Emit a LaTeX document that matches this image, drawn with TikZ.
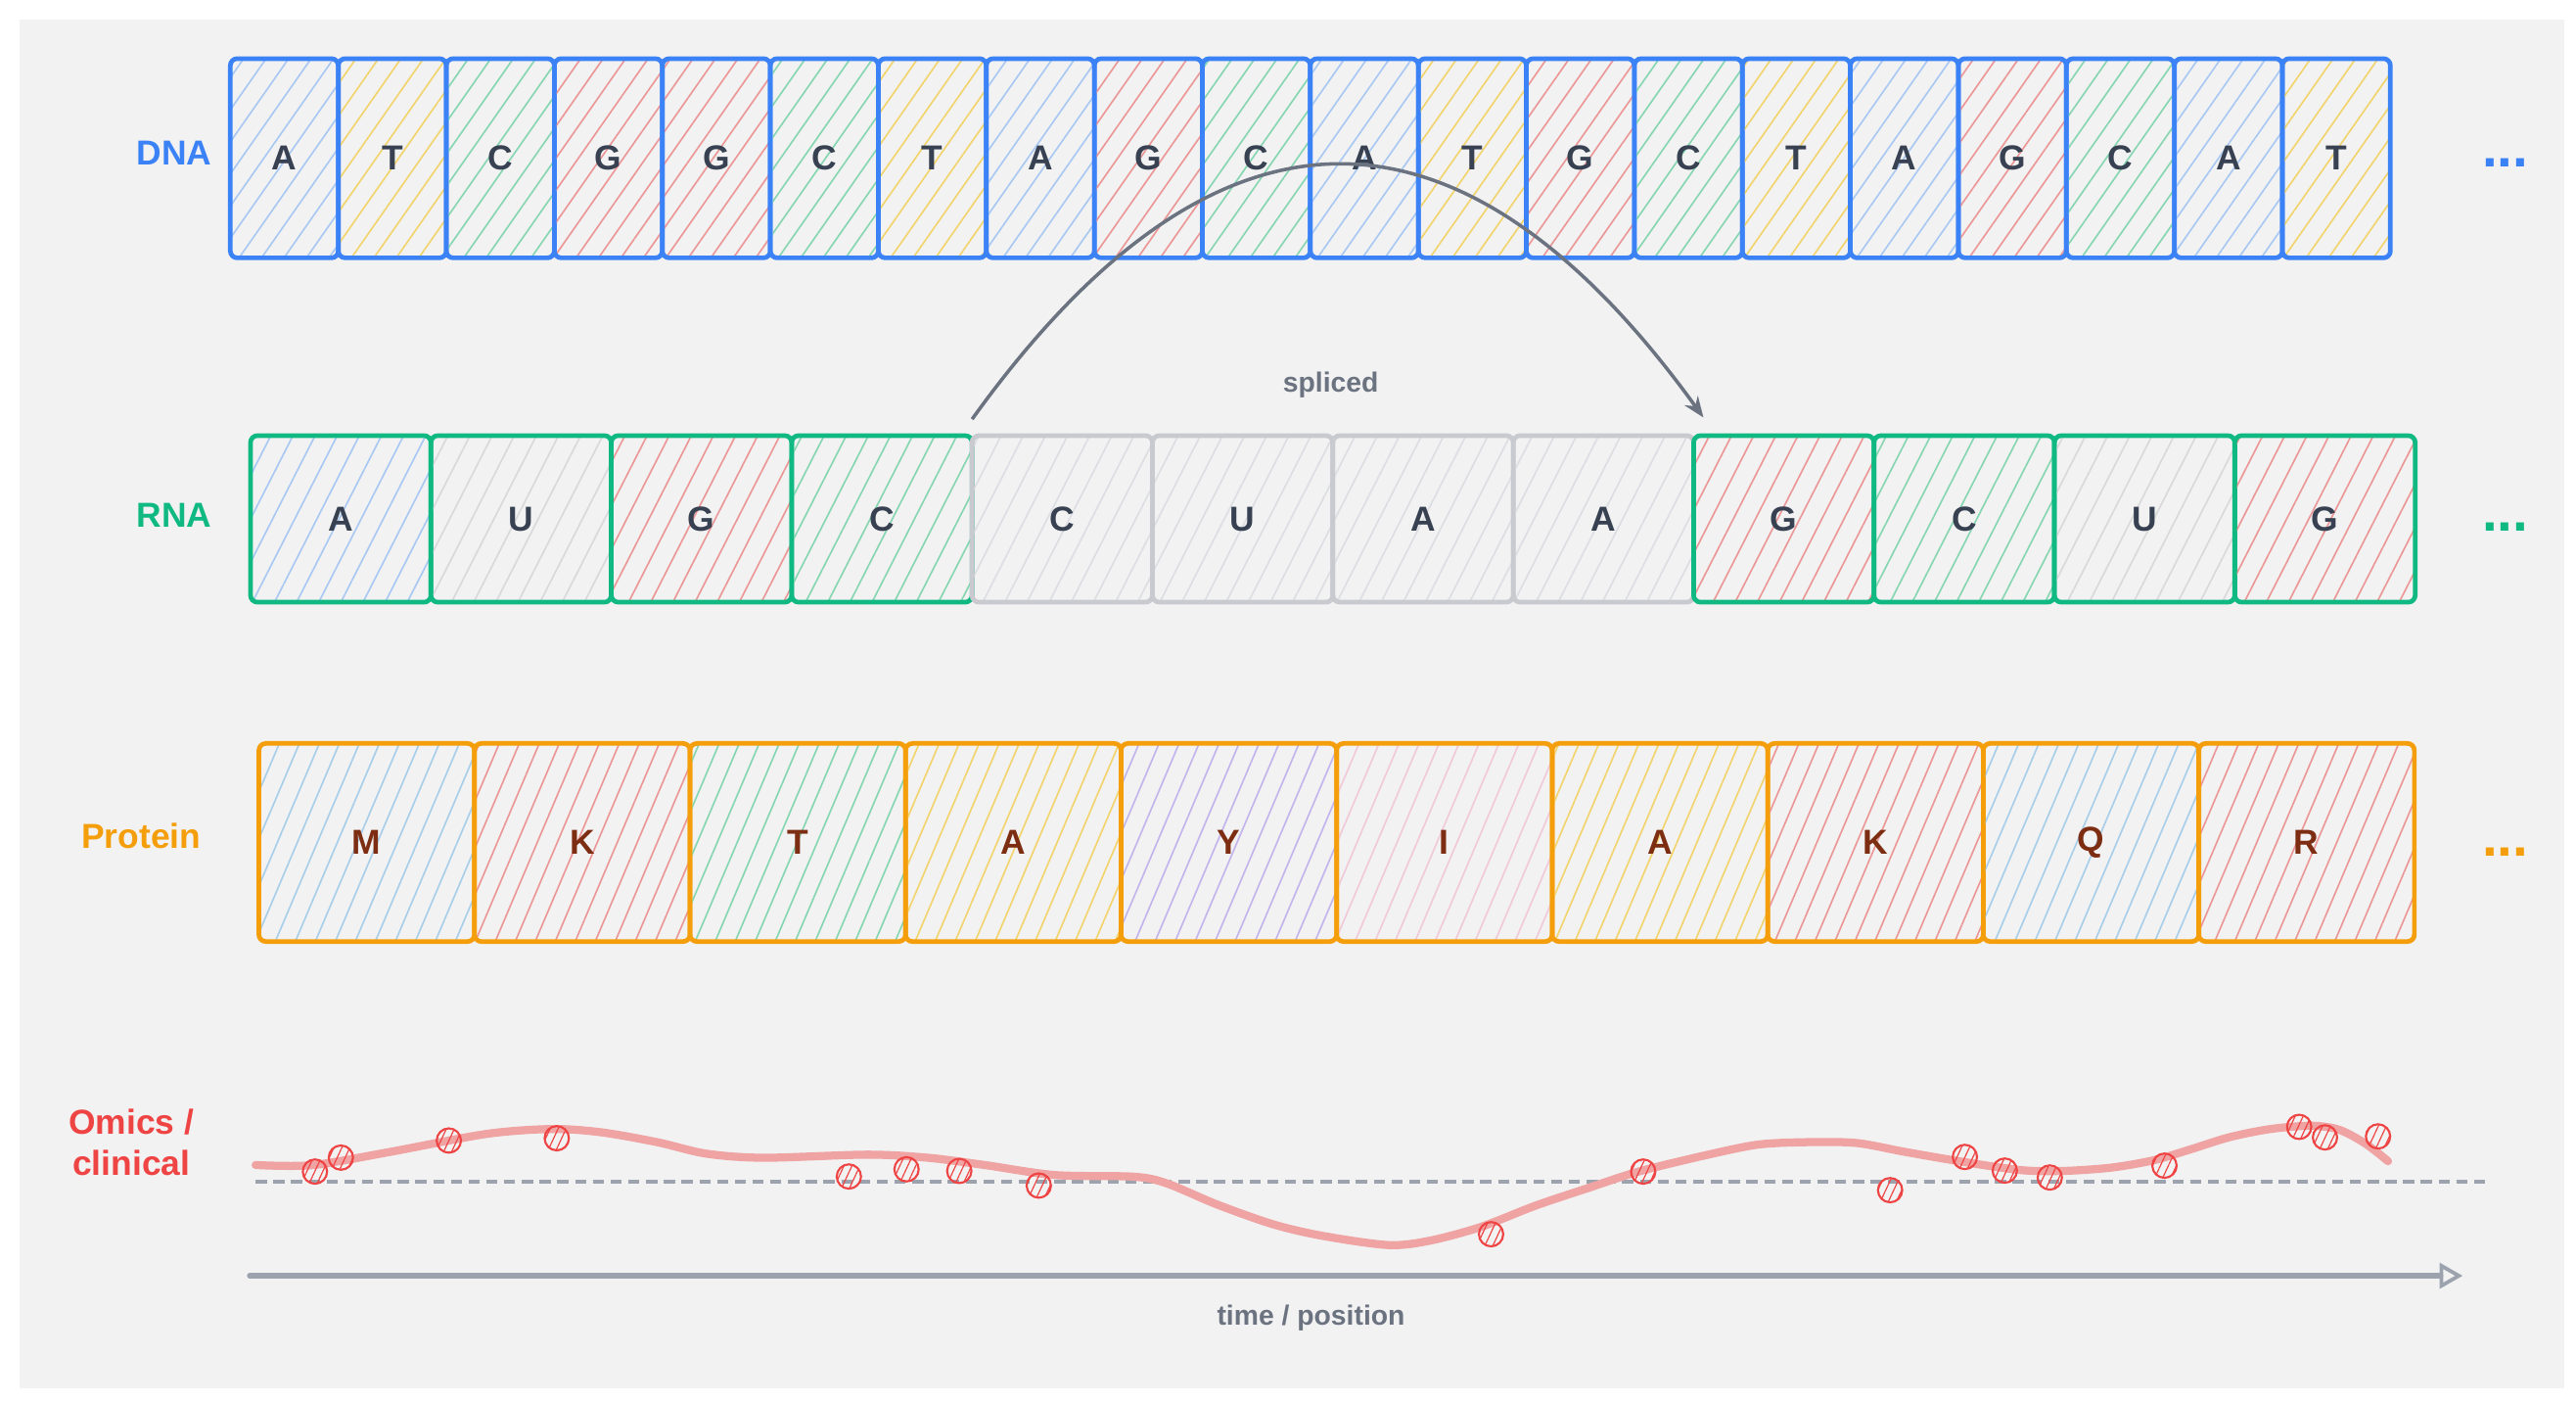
\documentclass[tikz,border=0pt]{standalone}
\usepackage{fontspec}
\setmainfont{Liberation Sans}
\usetikzlibrary{patterns.meta,arrows.meta}

\definecolor{panel}{HTML}{F2F2F2}
\definecolor{dnablue}{HTML}{3B82F6}
\definecolor{rnagreen}{HTML}{10B981}
\definecolor{intron}{HTML}{C8CAD0}
\definecolor{protorange}{HTML}{F59E0B}
\definecolor{omicsred}{HTML}{EF4444}
\definecolor{ink}{HTML}{374151}
\definecolor{protbrown}{HTML}{7C2D12}
\definecolor{arcgray}{HTML}{6B7280}
\definecolor{axisgray}{HTML}{9CA3AF}
\definecolor{curvered}{HTML}{EFA3A3}
% hatch colours
\definecolor{hA}{HTML}{A9C8F2}
\definecolor{hT}{HTML}{F2D46E}
\definecolor{hC}{HTML}{86D6B2}
\definecolor{hG}{HTML}{EC9797}
\definecolor{hU}{HTML}{D9D9DB}
\definecolor{hX}{HTML}{DDDEE3}
\definecolor{hsky}{HTML}{A8CEEA}
\definecolor{hpurple}{HTML}{C3B4EC}
\definecolor{hpink}{HTML}{F1C9D9}

\tikzset{
  cell/.style={draw,line width=2pt,rounded corners=3pt,inner sep=0pt,outer sep=0pt,
    line cap=round,font=\fontsize{15}{18}\selectfont\bfseries},
  dnabox/.style={cell,draw=dnablue,text=ink,minimum width=1.6435cm,minimum height=3.03cm,
    pattern={Lines[angle=55,distance=0.28cm,line width=0.7pt]}},
  rnabox/.style={cell,text=ink,minimum width=2.745cm,minimum height=2.533cm,
    pattern={Lines[angle=63,distance=0.3cm,line width=0.7pt]}},
  protbox/.style={cell,draw=protorange,text=protbrown,minimum width=3.28cm,minimum height=3.0125cm,
    pattern={Lines[angle=67,distance=0.28cm,line width=0.7pt]}},
  rowlabel/.style={font=\fontsize{15}{18}\selectfont\bfseries,align=center},
  more/.style={font=\fontsize{24}{24}\selectfont\bfseries,anchor=base},
  smalllabel/.style={font=\fontsize{12}{14}\selectfont\bfseries,text=arcgray},
  splice/.style={draw=arcgray,line width=1.5pt},
  sample/.style={circle,draw=omicsred,line width=0.9pt,minimum size=0.37cm,inner sep=0pt,
    pattern={Lines[angle=65,distance=0.11cm,line width=0.5pt]},pattern color=omicsred},
  trend/.style={draw=curvered,line width=3.5pt,line cap=round},
  refline/.style={draw=axisgray,line width=1.8pt,dash pattern=on 0.17cm off 0.1cm},
  axisline/.style={draw=axisgray,line width=2.4pt,line cap=round}
}

\begin{document}
\begin{tikzpicture}[x=0.025cm,y=-0.025cm]
\useasboundingbox (0,0) rectangle (1568,853);
\fill[panel] (12,12) rectangle (1561,845);
% DNA
\node[rowlabel,text=dnablue] (dnalbl) at (106,93) {DNA};
\foreach \b [count=\i] in {A,T,C,G,G,C,T,A,G,C,A,T,G,C,T,A,G,C,A,T}
  \node[dnabox,pattern color=h\b] (d\i) at ({140.2+65.74*(\i-0.5)},96.3) {\b};
\node[more,text=dnablue] (dnamore) at (1525,101.7) {...};
% RNA
\node[rowlabel,text=rnagreen] (rnalbl) at (106,313.5) {RNA};
\foreach \b/\h/\e [count=\i] in {A/A/rnagreen,U/U/rnagreen,G/G/rnagreen,C/C/rnagreen,
    C/X/intron,U/X/intron,A/X/intron,A/X/intron,G/G/rnagreen,C/C/rnagreen,U/U/rnagreen,G/G/rnagreen}
  \node[rnabox,draw=\e,pattern color=h\h] (r\i) at ({152.5+109.8*(\i-0.5)},315.75) {\b};
\node[more,text=rnagreen] (rnamore) at (1525,323) {...};
% splicing arc
\draw[splice,-{Stealth[open,length=9pt,width=7pt]}] ([yshift=0.25cm]r4.north east) .. controls +(148,-206) and +(-148,-205) .. ([xshift=0.15cm,yshift=0.275cm]r9.north west);
\node[smalllabel] (splicelbl) at (810,234) {spliced};
% Protein
\node[rowlabel,text=protorange] (protlbl) at (86,508.6) {Protein};
\foreach \b/\h [count=\i] in {M/sky,K/G,T/C,A/T,Y/purple,I/pink,A/T,K/G,Q/sky,R/G}
  \node[protbox,pattern color=h\h] (p\i) at ({157.6+131.2*(\i-0.5)},512.65) {\b};
\node[more,text=protorange] (protmore) at (1525,521) {...};
% Omics / clinical
\node[rowlabel,text=omicsred] (omicslbl) at (80,695) {Omics /\\clinical};
\coordinate (b0) at (155.6,718.9);
\coordinate (b1) at (1512.3,718.9);
\draw[refline] (b0) -- (b1);
\draw[trend] plot[smooth,tension=0.5] coordinates {(155.6,708.9) (190,709) (237,701) (296,690)
  (336,687) (366,689) (400,695) (430,702) (465,704.5) (528,702.6) (565,704.5) (600,709)
  (642,715) (690,716) (710,720) (741,733) (775,745) (805,752) (845,757.6) (870,755)
  (901,746.7) (935,733.5) (967,722.8) (997,713) (1038,703) (1070,696.5) (1100,695)
  (1130,695.5) (1160,701) (1195,707) (1230,712) (1256,712.5) (1285,710.5) (1311,706)
  (1333,699.5) (1357,692) (1382,687) (1407,685) (1424,687.5) (1440,696) (1453.6,706.6)};
\foreach \x/\y [count=\i] in {191.7/712.9,207.5/704.4,273.2/694.0,338.9/692.6,516.7/715.9,
    551.8/711.5,583.9/712.5,632.3/721.4,907.6/751.0,1000.2/712.9,1150.5/724.2,1196.0/704.0,
    1220.3/712.3,1247.7/716.5,1317.5/709.3,1399.5/685.7,1415.2/692.1,1447.5/691.5}
  \node[sample] (o\i) at (\x,\y) {};
% time axis
\coordinate (t0) at (152,776.3);
\coordinate (t1) at (1499,776.3);
\draw[axisline,-{Triangle[open,length=10pt,width=11pt,line width=1.6pt]}] (t0) -- (t1);
\node[smalllabel] (timelbl) at (798,802) {time / position};
\end{tikzpicture}
\end{document}
